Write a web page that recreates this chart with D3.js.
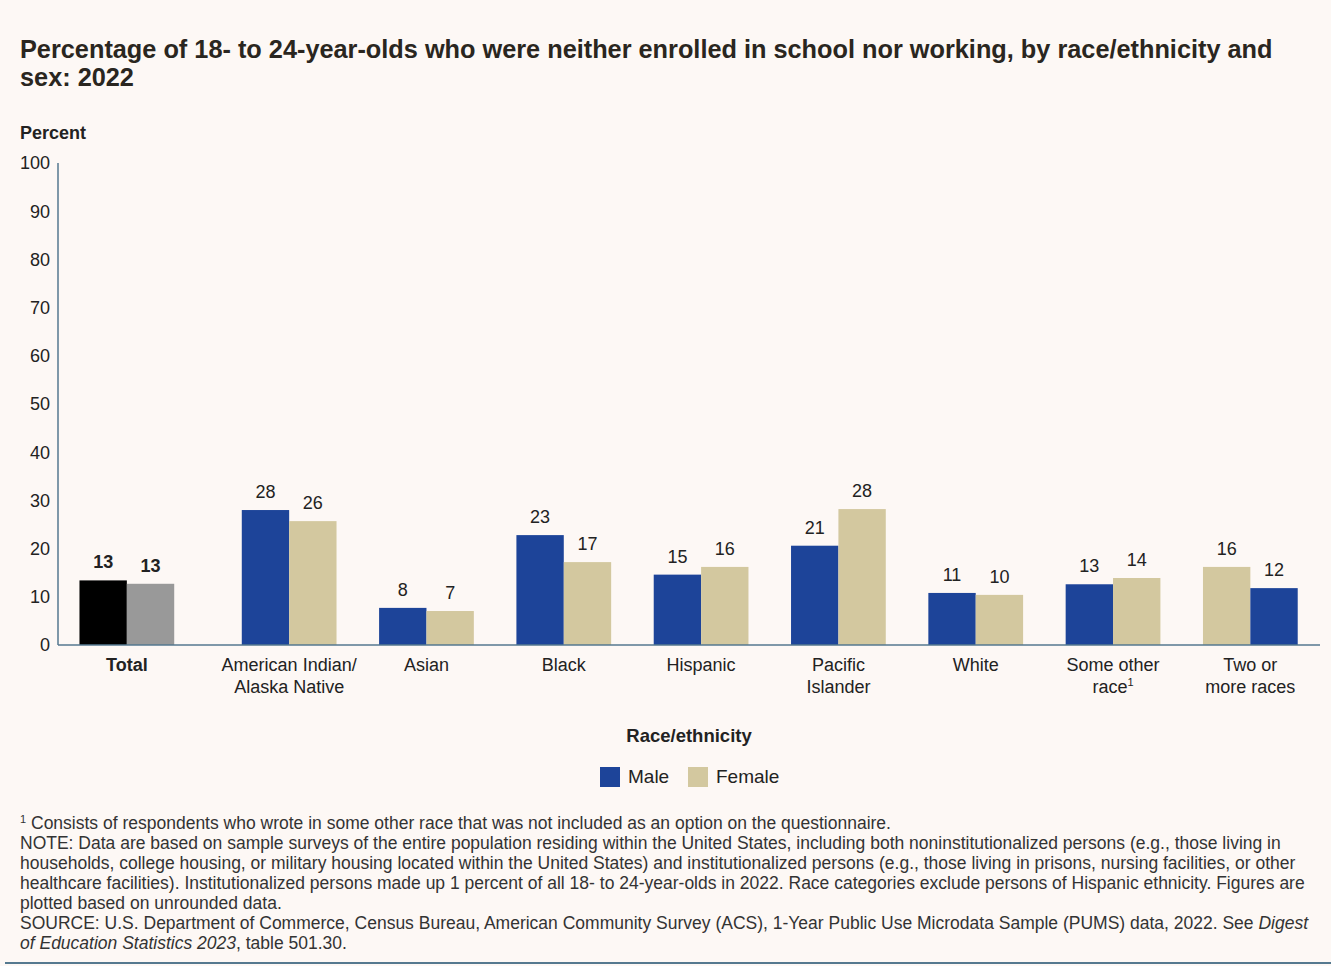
<!DOCTYPE html>
<html>
<head>
<meta charset="utf-8">
<script src="https://cdn.jsdelivr.net/npm/d3@7"></script>
<style>
  body { margin: 0; background: #fdf8f5; }
  svg { display: block; font-family: "Liberation Sans", Arial, sans-serif; }
</style>
</head>
<body>
<div id="chart"></div>
<script>
// chart values
var categories = ["Total", "American Indian/|Alaska Native", "Asian", "Black", "Hispanic",
                  "Pacific|Islander", "White", "Some other|race¹", "Two or|more races"];
var maleValues   = [13.4, 28.0, 7.7, 22.8, 14.6, 20.6, 10.8, 12.6, 11.8];
var femaleValues = [12.7, 25.7, 7.05, 17.2, 16.2, 28.2, 10.4, 13.9, 16.2];
// the last group is drawn female first in the original
var femaleFirst  = [false, false, false, false, false, false, false, false, true];
var yTicks = [0, 10, 20, 30, 40, 50, 60, 70, 80, 90, 100];
var seriesNames = ["Male", "Female"];

var title = ["Percentage of 18- to 24-year-olds who were neither enrolled in school nor working, by race/ethnicity and",
             "sex: 2022"];
var notes = [
  [{t: "1", sup: true}, {t: " Consists of respondents who wrote in some other race that was not included as an option on the questionnaire."}],
  [{t: "NOTE: Data are based on sample surveys of the entire population residing within the United States, including both noninstitutionalized persons (e.g., those living in"}],
  [{t: "households, college housing, or military housing located within the United States) and institutionalized persons (e.g., those living in prisons, nursing facilities, or other"}],
  [{t: "healthcare facilities). Institutionalized persons made up 1 percent of all 18- to 24-year-olds in 2022. Race categories exclude persons of Hispanic ethnicity. Figures are"}],
  [{t: "plotted based on unrounded data."}],
  [{t: "SOURCE: U.S. Department of Commerce, Census Bureau, American Community Survey (ACS), 1-Year Public Use Microdata Sample (PUMS) data, 2022. See "}, {t: "Digest", it: true}],
  [{t: "of Education Statistics 2023", it: true}, {t: ", table 501.30."}]
];

var width = 1331, height = 966;
var colMale = "#1d4499", colFemale = "#d3c89f";
var colTotalMale = "#000000", colTotalFemale = "#999999";
var axisCol = "#55798f", textCol = "#222";

var svg = d3.select("#chart").append("svg")
    .attr("width", width).attr("height", height);

svg.append("rect").attr("width", width).attr("height", height).attr("fill", "#fdf8f5");

// title
svg.append("g").selectAll("text").data(title).join("text")
    .attr("x", 20).attr("y", function(d, i) { return 58 + i * 28; })
    .attr("fill", "#2a2620").style("font-size", "25.3px").style("font-weight", "bold")
    .text(function(d) { return d; });

svg.append("text").attr("x", 20).attr("y", 139)
    .attr("fill", textCol).style("font-size", "18px").style("font-weight", "bold")
    .text("Percent");

// scales
var plotLeft = 58, plotRight = 1320, plotTop = 163, plotBottom = 645;
var y = d3.scaleLinear().domain([0, 100]).range([plotBottom, plotTop]);

var groups = categories.slice(1);
var x = d3.scaleBand().domain(groups).range([220.5, 1319])
    .paddingInner(0.31).paddingOuter(0.155);
var totalGap = 25;
function center(i) {
  if (i === 0) return x(groups[0]) + x.bandwidth() / 2 - x.step() - totalGap;
  return x(categories[i]) + x.bandwidth() / 2;
}
var barW = x.bandwidth() / 2;

// y axis labels
svg.append("g").selectAll("text").data(yTicks).join("text")
    .attr("x", 50).attr("y", function(d) { return y(d); })
    .attr("dy", "0.36em").attr("text-anchor", "end")
    .attr("fill", textCol).style("font-size", "18px")
    .text(function(d) { return d; });

// bars
var bars = [];
categories.forEach(function(c, i) {
  var pair = [
    {s: 0, v: maleValues[i], col: i === 0 ? colTotalMale : colMale},
    {s: 1, v: femaleValues[i], col: i === 0 ? colTotalFemale : colFemale}
  ];
  if (femaleFirst[i]) pair.reverse();
  pair.forEach(function(b, k) {
    b.x = center(i) - barW + k * barW;
    b.bold = i === 0;
    bars.push(b);
  });
});

svg.append("g").selectAll("rect").data(bars).join("rect")
    .attr("x", function(d) { return d.x; })
    .attr("y", function(d) { return y(d.v); })
    .attr("width", barW)
    .attr("height", function(d) { return y(0) - y(d.v); })
    .attr("fill", function(d) { return d.col; });

svg.append("g").selectAll("text").data(bars).join("text")
    .attr("x", function(d) { return d.x + barW / 2; })
    .attr("y", function(d) { return y(d.v) - 12; })
    .attr("text-anchor", "middle").attr("fill", textCol)
    .style("font-size", "18px")
    .style("font-weight", function(d) { return d.bold ? "bold" : "normal"; })
    .text(function(d) { return d3.format(".0f")(d.v); });

// axes lines
svg.append("line").attr("x1", plotLeft).attr("x2", plotLeft)
    .attr("y1", plotTop).attr("y2", plotBottom)
    .attr("stroke", axisCol).attr("stroke-width", 1.5);
svg.append("line").attr("x1", plotLeft).attr("x2", plotRight)
    .attr("y1", plotBottom).attr("y2", plotBottom)
    .attr("stroke", axisCol).attr("stroke-width", 1.5);

// category labels
var catG = svg.append("g");
categories.forEach(function(c, i) {
  var t = catG.append("text").attr("text-anchor", "middle").attr("fill", textCol)
      .style("font-size", "18px").style("font-weight", i === 0 ? "bold" : "normal");
  c.split("|").forEach(function(line, k) {
    var sup = line.indexOf("¹");
    var ts = t.append("tspan").attr("x", center(i)).attr("y", 671 + k * 22);
    if (sup >= 0) {
      ts.text(line.slice(0, sup));
      ts.append("tspan").style("font-size", "11px").attr("dy", "-0.6em").text("1");
    } else {
      ts.text(line);
    }
  });
});

svg.append("text").attr("x", (plotLeft + plotRight) / 2).attr("y", 742)
    .attr("text-anchor", "middle").attr("fill", textCol)
    .style("font-size", "18.5px").style("font-weight", "bold")
    .text("Race/ethnicity");

// legend
var legend = svg.append("g").attr("transform", "translate(600,767)");
var legendCols = [colMale, colFemale];
var legendX = [0, 88];
seriesNames.forEach(function(n, i) {
  legend.append("rect").attr("x", legendX[i]).attr("y", 0)
      .attr("width", 20).attr("height", 20).attr("fill", legendCols[i]);
  legend.append("text").attr("x", legendX[i] + 28).attr("y", 16)
      .attr("fill", textCol).style("font-size", "19px").text(n);
});

// notes
var noteG = svg.append("g");
notes.forEach(function(parts, i) {
  var t = noteG.append("text").attr("x", 20).attr("y", 829 + i * 20)
      .attr("fill", "#333").style("font-size", "17.5px");
  parts.forEach(function(p, k) {
    var ts = t.append("tspan").text(p.t);
    if (p.it) ts.style("font-style", "italic");
    if (p.sup) ts.style("font-size", "11px").attr("dy", -6);
    if (k > 0 && parts[0].sup) ts.attr("dy", 6);
  });
});

svg.append("line").attr("x1", 5).attr("x2", width).attr("y1", 963).attr("y2", 963)
    .attr("stroke", axisCol).attr("stroke-width", 2);
</script>
</body>
</html>
